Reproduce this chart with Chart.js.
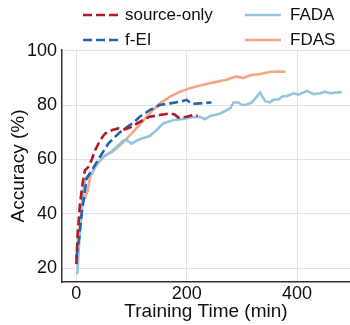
<!DOCTYPE html>
<html>
<head>
<meta charset="utf-8">
<script src="https://cdn.jsdelivr.net/npm/chart.js@4"></script>
<style>
  html, body { margin: 0; padding: 0; background: #fff; }
  #wrap { position: relative; width: 350px; height: 325px; overflow: hidden; font-family: "Liberation Sans", Arial, sans-serif; }
  canvas { position: absolute; left: 0; top: 0; }
  .leg { position: absolute; font-size: 17px; color: #111; line-height: 20px; white-space: nowrap; }
  .leg svg { position: absolute; }
</style>
</head>
<body>
<div id="wrap">
  <canvas id="c" width="350" height="325"></canvas>
  <div id="legend"></div>
</div>
<script>
// ---- data ----
const seriesNames = ["source-only", "f-EI", "FADA", "FDAS"];

const sourceOnlyTime = [0, 2.4, 6.6, 12, 15.6, 21.6, 28, 33.8, 43, 52, 64, 76, 88, 100, 115, 133, 151, 170, 178, 185, 200, 212, 220];
const sourceOnlyAcc  = [21.5, 32.6, 43.7, 52, 56, 57.2, 60, 63.3, 67, 69.5, 70.7, 71.4, 71, 72, 73.8, 75.7, 76.3, 76.9, 76.5, 75.4, 75.7, 76.3, 76];

const fEITime = [0, 5, 9.6, 18.7, 27.8, 37, 46, 58, 70, 82, 97, 106, 115, 133, 151, 170, 188, 200, 209, 224, 242, 245];
const fEIAcc  = [24, 31, 40, 53, 56, 59, 62, 65.8, 68.3, 70.5, 72.6, 74, 75.7, 78.1, 80, 80.6, 81.2, 81.9, 80.4, 80.6, 80.9, 80.9];

const fadaTime = [0, 2, 6.5, 12.5, 17, 21.6, 27.8, 34, 40, 49, 58, 70, 79, 85, 91, 100, 110, 119, 133, 145, 157, 175, 194, 206, 224, 233, 242, 261, 279, 285, 294, 300, 309, 318, 327, 333, 342, 351, 357, 367, 373, 382, 394, 403, 418, 430, 442, 451, 460, 472, 481];
const fadaAcc  = [18, 18.5, 33.7, 48.5, 52.9, 54, 54.7, 57.2, 59, 60.9, 62.1, 64, 65.8, 67, 67.2, 65.8, 67, 67.7, 68.6, 70.7, 73.2, 74.4, 74.9, 75.4, 75.7, 74.8, 75.9, 76.9, 78.8, 80.9, 80.9, 80, 80.2, 80.9, 83.1, 84.6, 81.4, 81, 81.9, 82.1, 83.1, 83.3, 84.3, 83.8, 85.2, 84, 84.3, 84.9, 84.3, 84.6, 84.8];

const fdasTime = [0, 3, 6.5, 11, 15.6, 20.5, 24.8, 34, 43, 52, 64, 76, 88, 100, 118, 133, 151, 170, 188, 206, 224, 242, 251, 272, 290, 302, 315, 333, 351, 363, 379];
const fdasAcc  = [26, 26, 36.3, 43.7, 46, 48.5, 53.5, 57.2, 59.6, 61.5, 62.7, 64.6, 67, 69.5, 73.5, 76.9, 80.6, 83.1, 84.9, 86.2, 87.2, 88, 88.4, 89.3, 90.5, 89.9, 90.9, 91.4, 92.1, 92.3, 92.2];

const xTicks = [0, 200, 400];
const yTicks = [20, 40, 60, 80, 100];
const xTitle = "Training Time (min)";
const yTitle = "Accuracy (%)";

// ---- styles ----
const colors = ["#b2182b", "#2166ac", "#92c5de", "#f4a582"];
const dashes = [[9, 4], [9, 4], [], []];

const pts = (t, v) => t.map((x, i) => ({ x: x, y: v[i] }));
const seriesData = [
  pts(sourceOnlyTime, sourceOnlyAcc),
  pts(fEITime, fEIAcc),
  pts(fadaTime, fadaAcc),
  pts(fdasTime, fdasAcc)
];
const drawOrder = [0, 1, 2, 3];

const FONT = "'Liberation Sans', Arial, sans-serif";

new Chart(document.getElementById("c"), {
  type: "line",
  data: {
    datasets: seriesNames.map((name, i) => ({
      label: name,
      data: seriesData[i],
      borderColor: colors[i],
      backgroundColor: colors[i],
      borderWidth: 2.6,
      borderDash: dashes[i],
      pointRadius: 0,
      tension: 0,
      fill: false,
      order: drawOrder[i]
    }))
  },
  options: {
    responsive: false,
    animation: false,
    devicePixelRatio: 1,
    layout: { padding: { top: 50, left: 0, right: 0, bottom: 0 } },
    plugins: { legend: { display: false }, tooltip: { enabled: false } },
    scales: {
      x: {
        type: "linear",
        min: -26,
        max: 496,
        afterFit: s => { s.height = 43; },
        afterBuildTicks: s => { s.ticks = xTicks.map(v => ({ value: v })); },
        grid: { color: "#e2e2e2", lineWidth: 1, drawTicks: false },
        border: { color: "#333", width: 1.5 },
        ticks: { color: "#111", font: { family: FONT, size: 18 }, padding: 1, maxRotation: 0 },
        title: { display: true, text: xTitle, color: "#111", font: { family: FONT, size: 19 }, padding: { top: 0, bottom: 2 } }
      },
      y: {
        type: "linear",
        min: 15,
        max: 100.2,
        afterFit: s => { s.width = 62; },
        afterBuildTicks: s => { s.ticks = yTicks.map(v => ({ value: v })); },
        grid: { color: "#e2e2e2", lineWidth: 1, drawTicks: false },
        border: { color: "#333", width: 1.5 },
        ticks: { color: "#111", font: { family: FONT, size: 18 }, padding: 5 },
        title: { display: true, text: yTitle, color: "#111", font: { family: FONT, size: 19 }, padding: { top: 7, bottom: 0 } }
      }
    }
  }
});

// ---- legend (two columns, column-major like the reference) ----
const legendPos = [
  { lx: 83, tx: 125, y: 15 },
  { lx: 83, tx: 125, y: 40 },
  { lx: 245, tx: 290, y: 15 },
  { lx: 245, tx: 290, y: 40 }
];
const legEl = document.getElementById("legend");
seriesNames.forEach((name, i) => {
  const p = legendPos[i];
  const svgNS = "http://www.w3.org/2000/svg";
  const svg = document.createElementNS(svgNS, "svg");
  svg.setAttribute("width", "40");
  svg.setAttribute("height", "8");
  svg.style.position = "absolute";
  svg.style.left = p.lx + "px";
  svg.style.top = (p.y - 4) + "px";
  const ln = document.createElementNS(svgNS, "line");
  ln.setAttribute("x1", "0"); ln.setAttribute("x2", "36");
  ln.setAttribute("y1", "4"); ln.setAttribute("y2", "4");
  ln.setAttribute("stroke", colors[i]);
  ln.setAttribute("stroke-width", "2.6");
  if (dashes[i].length) ln.setAttribute("stroke-dasharray", dashes[i].join(" "));
  svg.appendChild(ln);
  legEl.appendChild(svg);
  const d = document.createElement("div");
  d.className = "leg";
  d.textContent = name;
  d.style.left = p.tx + "px";
  d.style.top = (p.y - 10) + "px";
  legEl.appendChild(d);
});
</script>
</body>
</html>
